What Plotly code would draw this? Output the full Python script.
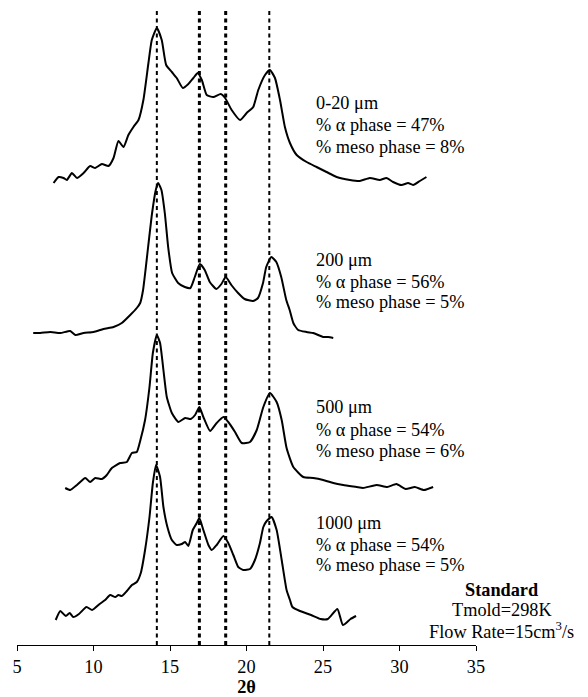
import plotly.graph_objects as go

# ---- data (2-theta in degrees, intensity in stacked arbitrary units) ----
tt_0_20 = [7.39, 7.72, 8.04, 8.26, 8.59, 8.92, 9.35, 9.78, 10.11, 10.55, 10.98, 11.31, 11.63, 11.96,
           12.28, 12.61, 12.94, 13.26, 13.59, 13.81, 14.14, 14.46, 14.75, 15.12, 15.44, 15.84, 16.20,
           16.53, 16.81, 17.08, 17.40, 17.83, 18.32, 18.60, 19.03, 19.58, 20.01, 20.44, 20.77, 21.21,
           21.53, 21.86, 22.19, 22.51, 22.84, 23.28, 23.93, 24.58, 25.23, 25.89, 26.76, 27.41, 28.06,
           28.71, 29.15, 29.58, 30.13, 30.56, 30.89, 31.33, 31.76]
int_0_20 = [462, 468, 467, 465, 472, 467, 472, 479, 477, 481, 479, 487, 504, 498,
            510, 518, 525, 545, 582, 605, 617, 605, 580, 573, 567, 557, 561,
            567, 572, 565, 550, 548, 551, 547, 535, 525, 532, 538, 555, 570,
            575, 567, 545, 518, 502, 490, 483, 478, 473, 468, 465, 464, 467,
            465, 467, 463, 460, 462, 460, 464, 468]

tt_200 = [6.06, 6.52, 7.17, 7.83, 8.48, 8.81, 9.35, 10.00, 10.65, 11.31, 11.85, 12.40, 12.83, 13.05,
          13.24, 13.57, 13.83, 14.07, 14.22, 14.44, 14.66, 14.88, 15.14, 15.53, 15.97, 16.33, 16.62,
          16.95, 17.27, 17.60, 18.03, 18.36, 18.64, 19.01, 19.45, 19.88, 20.42, 20.75, 21.08, 21.29,
          21.62, 21.95, 22.27, 22.60, 22.82, 23.06, 23.38, 23.93, 24.36, 24.69, 25.01, 25.34, 25.67]
int_200 = [312, 312, 313, 312, 314, 310, 312, 313, 316, 318, 322, 330, 337, 342,
           355, 398, 432, 455, 462, 455, 432, 398, 372, 362, 358, 357, 368,
           381, 375, 363, 356, 361, 368, 360, 352, 346, 344, 347, 362, 378,
           388, 383, 368, 345, 335, 322, 315, 313, 312, 310, 308, 308, 307]

tt_500 = [8.15, 8.48, 8.92, 9.46, 9.78, 10.11, 10.55, 10.87, 11.20, 11.74, 12.18, 12.51, 12.83, 13.05,
          13.37, 13.66, 13.88, 14.14, 14.35, 14.57, 14.79, 15.12, 15.55, 15.99, 16.36, 16.64, 16.92,
          17.18, 17.62, 18.05, 18.49, 18.81, 19.25, 19.69, 20.23, 20.67, 21.10, 21.53, 21.97, 22.30,
          22.62, 23.06, 23.71, 24.36, 25.01, 25.67, 26.32, 27.19, 27.62, 28.50, 29.20, 29.80, 30.40,
          31.00, 31.60, 32.20]
int_500 = [157, 155, 160, 167, 163, 167, 166, 170, 177, 182, 183, 192, 193, 204,
           225, 258, 292, 310, 302, 275, 248, 232, 223, 227, 226, 230, 238,
           228, 214, 222, 228, 223, 213, 202, 203, 215, 238, 252, 243, 225,
           197, 178, 168, 167, 165, 162, 160, 158, 157, 160, 158, 161, 156,
           158, 155, 158]

tt_1000 = [7.53, 7.83, 8.19, 8.44, 8.67, 9.05, 9.54, 9.91, 10.40, 10.76, 11.09, 11.42, 11.63, 11.85,
           12.18, 12.51, 12.83, 13.09, 13.37, 13.66, 13.88, 14.09, 14.35, 14.57, 14.83, 15.12, 15.44,
           15.77, 15.99, 16.20, 16.49, 16.75, 16.92, 17.18, 17.51, 17.73, 18.05, 18.49, 18.81, 19.14,
           19.46, 19.79, 20.23, 20.55, 20.88, 21.10, 21.32, 21.64, 21.97, 22.30, 22.62, 22.84, 23.00,
           23.49, 24.22, 24.84, 25.32, 25.94, 26.30, 26.80, 27.16]
int_1000 = [25, 34, 29, 32, 28, 31, 38, 35, 41, 45, 50, 48, 50, 49,
            54, 60, 63, 72, 95, 128, 162, 180, 168, 138, 118, 105, 100,
            101, 103, 99, 115, 122, 127, 115, 100, 95, 100, 109, 102, 90,
            78, 75, 76, 85, 102, 118, 124, 128, 115, 85, 55, 45, 38,
            34, 30, 26, 26, 36, 20, 26, 29]

peak_positions = [14.14, 16.92, 18.64, 21.49]
peak_widths = [2, 3, 3, 2]

labels = [
    ["0-20 μm", "% \u03b1 phase = 47%", "% meso phase = 8%"],
    ["200 μm", "% \u03b1 phase = 56%", "% meso phase = 5%"],
    ["500 μm", "% \u03b1 phase = 54%", "% meso phase = 6%"],
    ["1000 μm", "% \u03b1 phase = 54%", "% meso phase = 5%"],
]
label_y = [[542, 520, 498], [385, 363, 343], [238, 215, 194], [122, 100, 80]]
label_x = 24.42

cond_text = ["<b>Standard</b>", "Tmold=298K", "Flow Rate=15cm<sup>3</sup>/s"]
cond_y = [55, 35, 15]
cond_x_paper = 1.056

FONT = "Liberation Serif"

fig = go.Figure()
for tt, iy in [(tt_0_20, int_0_20), (tt_200, int_200), (tt_500, int_500), (tt_1000, int_1000)]:
    fig.add_trace(go.Scatter(x=tt, y=iy, mode="lines",
                             line=dict(color="black", width=2, shape="spline", smoothing=0.5),
                             showlegend=False, hoverinfo="skip"))

for p, w in zip(peak_positions, peak_widths):
    fig.add_shape(type="line", xref="x", yref="y", x0=p, x1=p, y0=0, y1=637,
                  line=dict(color="black", width=w, dash="4px,3.5px"), layer="below")

for block, ys in zip(labels, label_y):
    for t, yv in zip(block, ys):
        fig.add_annotation(x=label_x, y=yv, xref="x", yref="y", text=t, showarrow=False,
                           xanchor="left", yanchor="middle",
                           font=dict(family=FONT, size=18.3, color="black"))

for t, yv in zip(cond_text, cond_y):
    fig.add_annotation(x=cond_x_paper, y=yv, xref="paper", yref="y", text=t, showarrow=False,
                       xanchor="center", yanchor="middle",
                       font=dict(family=FONT, size=18.3, color="black"))

fig.update_layout(
    width=588, height=697,
    margin=dict(l=17, r=112, t=0, b=52),
    paper_bgcolor="white", plot_bgcolor="white",
    font=dict(family=FONT, size=18, color="black"),
    xaxis=dict(range=[5, 35], dtick=5, tick0=5, showline=True, linecolor="black", linewidth=1,
               ticks="outside", ticklen=5, tickwidth=1, tickcolor="black", showgrid=False,
               zeroline=False, tickfont=dict(family=FONT, size=18.3, color="black"),
               title=dict(text="<b>2θ</b>", font=dict(family=FONT, size=18.3, color="black"),
                          standoff=6),
               automargin=False),
    yaxis=dict(range=[0, 645], visible=False, showgrid=False, zeroline=False),
)

fig.write_html("out.html")
